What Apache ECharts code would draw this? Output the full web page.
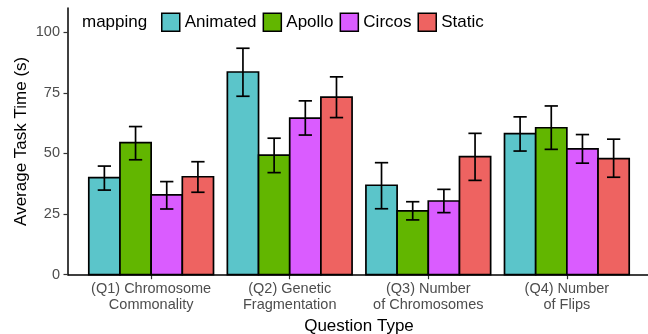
<!DOCTYPE html>
<html><head><meta charset="utf-8">
<script src="https://cdn.jsdelivr.net/npm/echarts@6/dist/echarts.min.js"></script>
<style>html,body{margin:0;padding:0;background:#fff}#c{width:648px;height:334px}</style>
</head><body><div id="c"></div>
<script>
const categories = ["(Q1) Chromosome\nCommonality", "(Q2) Genetic\nFragmentation", "(Q3) Number\nof Chromosomes", "(Q4) Number\nof Flips"];
const mappings = ["Animated", "Apollo", "Circos", "Static"];
const colors = ["#5BC5CA", "#62B600", "#DA5CFF", "#EE6361"];
const yTicks = [0, 25, 50, 75, 100];
// mean values per mapping, per question
const animatedMean = [40.0, 83.6, 36.9, 58.2];
const animatedLo   = [34.9, 73.6, 27.2, 51.0];
const animatedHi   = [44.8, 93.4, 46.2, 65.1];
const apolloMean   = [54.5, 49.3, 26.3, 60.6];
const apolloLo     = [47.4, 42.1, 22.6, 51.7];
const apolloHi     = [61.1, 56.3, 30.1, 69.6];
const circosMean   = [32.9, 64.6, 30.4, 51.9];
const circosLo     = [27.1, 57.6, 25.6, 46.0];
const circosHi     = [38.4, 71.7, 35.2, 57.8];
const staticMean   = [40.4, 73.2, 48.7, 47.9];
const staticLo     = [34.0, 64.8, 38.9, 40.2];
const staticHi     = [46.6, 81.6, 58.3, 55.9];

const means = [animatedMean, apolloMean, circosMean, staticMean];
const los = [animatedLo, apolloLo, circosLo, staticLo];
const his = [animatedHi, apolloHi, circosHi, staticHi];

const FONT = '"Liberation Sans", Arial, Helvetica, sans-serif';
const dodge = 0.9, nGroups = mappings.length, bw = dodge / nGroups;

const series = mappings.map((name, si) => {
  const offset = (si - (nGroups - 1) / 2) * bw;
  return {
    name, type: 'custom',
    itemStyle: { color: colors[si], borderColor: '#000', borderWidth: 1.5 },
    data: categories.map((c, ci) => [ci + 1, means[si][ci], los[si][ci], his[si][ci]]),
    encode: { x: 0, y: [1, 2, 3] },
    renderItem: function (params, api) {
      const cx = api.value(0) + offset;
      const v = api.value(1), lo = api.value(2), hi = api.value(3);
      const tl = api.coord([cx - bw / 2, v]);
      const br = api.coord([cx + bw / 2, 0]);
      const c = api.coord([cx, 0])[0];
      const pLo = api.coord([cx, lo])[1], pHi = api.coord([cx, hi])[1];
      const wl = api.coord([cx - 0.048, 0])[0], wr = api.coord([cx + 0.048, 0])[0];
      const ls = { stroke: '#000', lineWidth: 1.7 };
      return {
        type: 'group',
        children: [
          { type: 'rect', shape: { x: tl[0], y: tl[1], width: br[0] - tl[0], height: br[1] - tl[1] },
            style: { fill: colors[si], stroke: '#000', lineWidth: 1.7 } },
          { type: 'line', shape: { x1: c, y1: pLo, x2: c, y2: pHi }, style: ls },
          { type: 'line', shape: { x1: wl, y1: pLo, x2: wr, y2: pLo }, style: ls },
          { type: 'line', shape: { x1: wl, y1: pHi, x2: wr, y2: pHi }, style: ls }
        ]
      };
    }
  };
});

const chart = echarts.init(document.getElementById('c'), null, { renderer: 'canvas' });
chart.setOption({
  animation: false,
  textStyle: { fontFamily: FONT },
  title: { text: 'mapping', left: 82, top: 14, padding: 0, textStyle: { fontFamily: FONT, fontSize: 17, fontWeight: 'normal', color: '#000' } },
  legend: {
    data: mappings, left: 161, top: 12.5, padding: 0, itemWidth: 18, itemHeight: 18, itemGap: 6, icon: 'rect',
    itemStyle: { borderColor: '#000', borderWidth: 1.5 },
    textStyle: { fontFamily: FONT, fontSize: 17, color: '#000' }
  },
  grid: { left: 68, right: -2, top: 8, bottom: 59.3, containLabel: false, outerBoundsMode: 'none' },
  xAxis: {
    type: 'value', min: 0.4, max: 4.6,
    name: 'Question Type', nameLocation: 'middle', nameGap: 43, nameMoveOverlap: false,
    nameTextStyle: { fontFamily: FONT, fontSize: 17, color: '#000' },
    axisLine: { show: true, lineStyle: { color: '#000', width: 1.5 } },
    axisTick: { show: true, length: 4.5, customValues: [1, 2, 3, 4], lineStyle: { color: '#333', width: 1.2 } },
    axisLabel: { customValues: [1, 2, 3, 4], margin: 7, fontSize: 14.5, lineHeight: 15.5, color: '#4D4D4D', fontFamily: FONT,
      formatter: v => categories[Math.round(v) - 1] },
    splitLine: { show: false }
  },
  yAxis: {
    type: 'value', min: 0, max: 110,
    name: 'Average Task Time (s)', nameLocation: 'middle', nameGap: 38, nameMoveOverlap: false,
    nameTextStyle: { fontFamily: FONT, fontSize: 17, color: '#000' },
    axisLine: { show: true, lineStyle: { color: '#000', width: 1.5 } },
    axisTick: { show: true, length: 4.5, customValues: yTicks, lineStyle: { color: '#333', width: 1.2 } },
    axisLabel: { customValues: yTicks, margin: 8, fontSize: 14.5, color: '#4D4D4D', fontFamily: FONT },
    splitLine: { show: false }
  },
  series
});
</script></body></html>
